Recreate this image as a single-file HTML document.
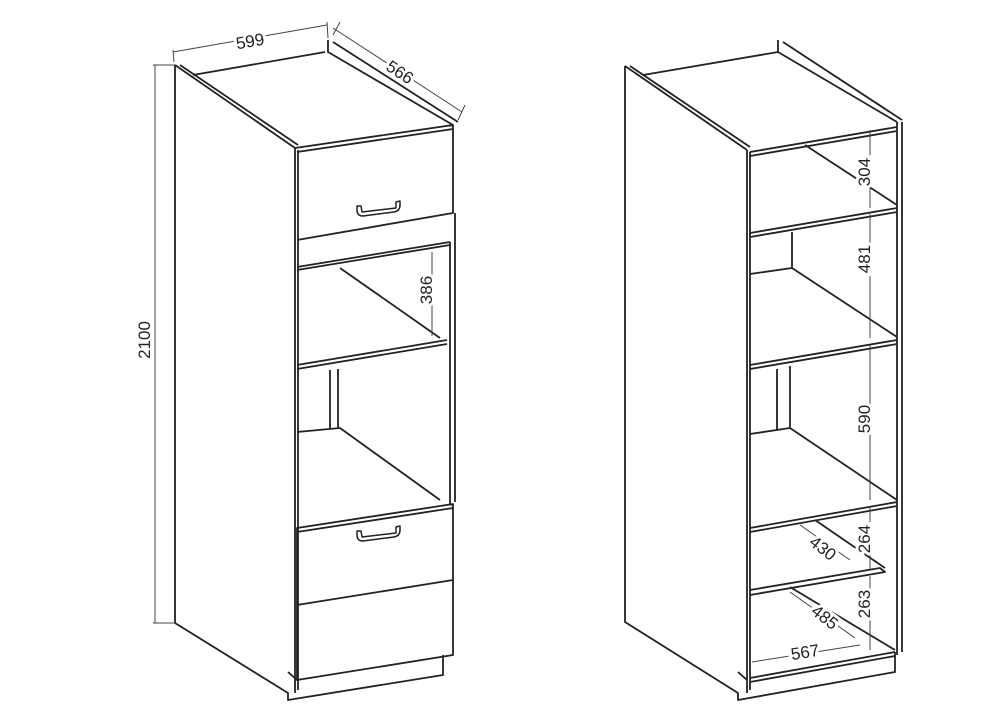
<!DOCTYPE html>
<html><head><meta charset="utf-8"><style>body{margin:0;background:#fff}svg{display:block}</style></head><body>
<svg width="1000" height="707" viewBox="0 0 1000 707" xmlns="http://www.w3.org/2000/svg" font-family="Liberation Sans, sans-serif">
<g fill="none" stroke="#222" stroke-width="1.8" stroke-linejoin="round">
<!-- LEFT CABINET -->
<path d="M175,65 L175,623 L288,693 L288,700 L443,675 L443,655"/>
<path d="M175,65 L295,148 M180,65 L298,145"/>
<path d="M193,75 L325,52 M328,40 L328,52 L453,125 M333,42 L458,122"/>
<path d="M295,148 L295,693 M298,150 L298,690"/>
<path d="M295,148 L453,125 L453,213 L297,240"/>
<path d="M297,152 L453,129"/>
<path d="M297,267 L450,242 M297,270 L450,245"/>
<path d="M450,242 L450,504 M455,213 L455,502"/>
<path d="M297,365 L447,340 M297,369 L447,344"/>
<path d="M340,268 L440,338"/>
<path d="M330,370 L330,428 M338,369 L338,428 M297,432 L340,428 L440,500"/>
<path d="M297,528 L453,504 L453,655 L297,680 Z M297,532 L453,508"/>
<path d="M297,605 L453,580"/>
<path d="M288,672 L297,680"/>
<path d="M357,210 q0,6 6,6 L394,212 q6,-1 6,-7 L400,201 L396,202 L396,208 L362,212 L361,206 L357,206 Z" stroke-width="1.5"/>
<path d="M357,535 q0,6 6,6 L394,537 q6,-1 6,-7 L400,526 L396,527 L396,533 L362,537 L361,531 L357,531 Z" stroke-width="1.5"/>
<!-- RIGHT CABINET -->
<path d="M625,66 L625,622 L738,693 L738,700 L895,672 L895,652"/>
<path d="M625,66 L747,150 M630,66 L750,147"/>
<path d="M643,75 L778,52 M778,40 L778,52 L897,122 M783,42 L902,120"/>
<path d="M747,150 L747,693 M750,152 L750,690"/>
<path d="M750,152 L897,127 M750,156 L897,131"/>
<path d="M897,122 L897,655 M902,122 L902,652"/>
<path d="M750,233 L897,208 M750,237 L897,212"/>
<path d="M805,145 L897,205"/>
<path d="M750,365 L897,340 M750,369 L897,344"/>
<path d="M750,274 L792,268 L792,232 M792,268 L897,337"/>
<path d="M777,369 L777,430 M790,366 L790,428 M750,434 L790,428 L897,500"/>
<path d="M750,528 L897,502 M750,532 L897,506"/>
<path d="M750,595 L885,572 L880,568 L750,590"/>
<path d="M815,520 L885,568"/>
<path d="M750,678 L895,652 M750,682 L895,656"/>
<path d="M790,587 L895,650"/>
<path d="M738,672 L747,680"/>
</g>
<g stroke="#444" stroke-width="1" fill="none">
<path d="M155,65 L155,623 M153,65 L175,65 M153,623 L175,623"/>
<path d="M173,52 L327,25 M173,50 L174,62 M327,22 L328,38"/>
<path d="M333,28 L462,112 M340,22 L333,35 M465,105 L458,120"/>
<path d="M432,252 L432,336"/>
<path d="M870,130 L870,208 M870,214 L870,338 M870,345 L870,500 M870,506 L870,570 M870,576 L870,650"/>
<path d="M800,525 L850,560 M790,592 L855,638 M752,662 L860,645"/>
</g>
<g fill="#222" font-size="17">
<g stroke="#fff" stroke-width="6" paint-order="stroke">
<text x="250" y="47" text-anchor="middle" transform="rotate(-10 250 41)">599</text>
<text x="400" y="78" text-anchor="middle" transform="rotate(33 400 72)">566</text>
<text x="155" y="345" text-anchor="middle" transform="rotate(-90 150 345)">2100</text>
<text x="437" y="295" text-anchor="middle" transform="rotate(-90 432 295)">386</text>
<text x="876" y="178" text-anchor="middle" transform="rotate(-90 870 178)">304</text>
<text x="876" y="265" text-anchor="middle" transform="rotate(-90 870 265)">481</text>
<text x="876" y="425" text-anchor="middle" transform="rotate(-90 870 425)">590</text>
<text x="876" y="545" text-anchor="middle" transform="rotate(-90 870 545)">264</text>
<text x="876" y="610" text-anchor="middle" transform="rotate(-90 870 610)">263</text>
<text x="823" y="554" text-anchor="middle" transform="rotate(38 823 548)">430</text>
<text x="825" y="623" text-anchor="middle" transform="rotate(38 825 617)">485</text>
<text x="805" y="658" text-anchor="middle" transform="rotate(-9 805 652)">567</text>
</g>
</g>
</svg>
</body></html>
